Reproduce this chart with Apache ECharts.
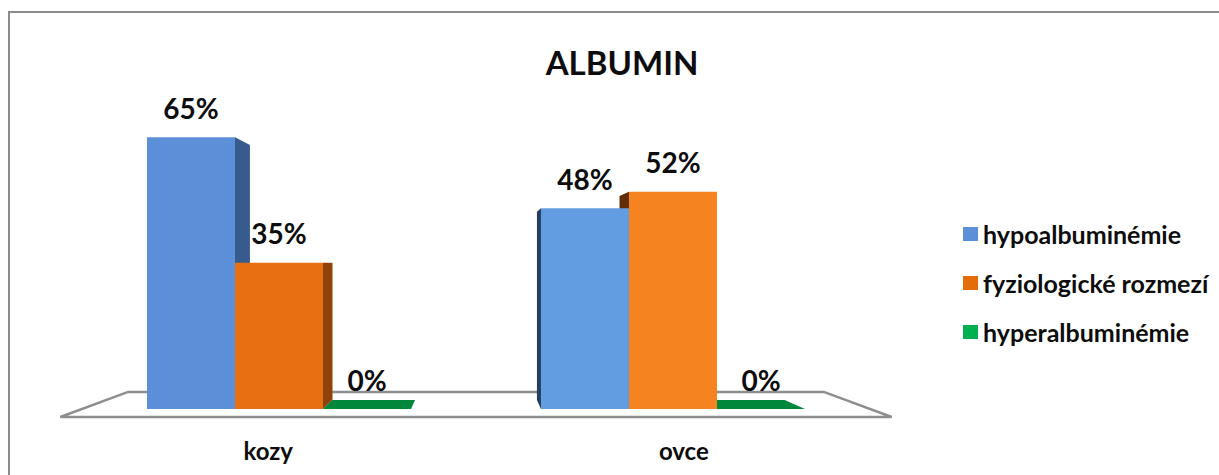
<!DOCTYPE html>
<html>
<head>
<meta charset="utf-8">
<title>ALBUMIN</title>
<script src="https://cdn.jsdelivr.net/npm/echarts@6/dist/echarts.min.js"></script>
<style>
  html, body { margin: 0; padding: 0; background: #ffffff; }
  #chart { width: 1219px; height: 475px; }
</style>
</head>
<body>
<div id="chart"></div>
<script>
// Values (percent of animals in each albumin class)
const categories = ['kozy', 'ovce'];
const seriesNames = ['hypoalbuminémie', 'fyziologické rozmezí', 'hyperalbuminémie'];
const hypoValues = [65, 48];
const physValues = [35, 52];
const hyperValues = [0, 0];

// Perspective settings for the pseudo-3D columns
const FONT = 'Lato, "Noto Sans", sans-serif';
const EYE_Y = 263;          // horizon line (px)
const BAR_BACK = 0.938;     // scale of a column's back face
const FLOOR_FRONT = 1.055;  // scale of the floor's front edge
const FLOOR_BACK = 0.883;   // scale of the floor's back edge
const BAR_RATIO = 0.2234;   // column width as a share of the category band

const palettes = [
  { legend: '#5B8FD6', left: { front: '#5B90D8', side: '#365B8C' }, right: { front: '#629DE2', side: '#233E62' } },
  { legend: '#E46C0A', left: { front: '#E87012', side: '#8F430A' }, right: { front: '#F58320', side: '#612D05' } },
  { legend: '#00B050', left: { front: '#00873C', side: '#006A2F' }, right: { front: '#00873C', side: '#006A2F' } }
];

function project(x, y, s, vx) {
  return [vx + (x - vx) * s, EYE_Y + (y - EYE_Y) * s];
}

function makeBarRenderer(si) {
  return function (params, api) {
    const cat = api.value(0);
    const val = api.value(1);
    const base = api.coord([cat, 0]);
    const top = api.coord([cat, val]);
    const band = api.size([1, 0])[0];
    const w = band * BAR_RATIO;
    const cs = params.coordSys;
    const vx = cs.x + cs.width / 2;
    const cx = base[0] + (si - 1) * w;
    const xl = cx - w / 2, xr = cx + w / 2;
    const yt = top[1], yb = base[1];
    const pal = cx < vx ? palettes[si].left : palettes[si].right;
    const order = 500 - Math.round(Math.abs(cx - vx));
    const children = [];

    // side face toward the vanishing point
    if (xr < vx) {
      children.push({
        type: 'polygon', z2: order,
        shape: { points: [[xr, yt], project(xr, yt, BAR_BACK, vx), project(xr, yb, BAR_BACK, vx), [xr, yb]] },
        style: { fill: pal.side }
      });
    } else if (xl > vx) {
      children.push({
        type: 'polygon', z2: order,
        shape: { points: [[xl, yt], project(xl, yt, BAR_BACK, vx), project(xl, yb, BAR_BACK, vx), [xl, yb]] },
        style: { fill: pal.side }
      });
    }
    // top face, visible when the column top lies below the horizon
    if (yt > EYE_Y + 0.5) {
      children.push({
        type: 'polygon', z2: order,
        shape: { points: [[xl, yt], [xr, yt], project(xr, yt, BAR_BACK, vx), project(xl, yt, BAR_BACK, vx)] },
        style: { fill: pal.front }
      });
    }
    // front face
    if (yb - yt > 0) {
      children.push({
        type: 'rect', z2: order + 1,
        shape: { x: xl, y: yt, width: w, height: yb - yt },
        style: { fill: pal.front }
      });
    }
    // value label
    children.push({
      type: 'text', z2: 2000,
      style: {
        x: cx, y: yt - 29.5, text: val + '%',
        align: 'center', verticalAlign: 'middle',
        font: 'bold 28px ' + FONT, fill: '#0d0d0d'
      }
    });
    return { type: 'group', children: children };
  };
}

function renderFloor(params, api) {
  const cat = api.value(0);
  const base = api.coord([cat, 0]);
  const cs = params.coordSys;
  const vx = cs.x + cs.width / 2;
  const y0 = base[1];
  const children = [];
  if (params.dataIndex === 0) {
    const x0 = cs.x, x1 = cs.x + cs.width;
    children.push({
      type: 'polygon', z2: -100,
      shape: { points: [project(x0, y0, FLOOR_FRONT, vx), project(x0, y0, FLOOR_BACK, vx),
                        project(x1, y0, FLOOR_BACK, vx), project(x1, y0, FLOOR_FRONT, vx)] },
      style: { fill: 'none', stroke: '#8e8e8e', lineWidth: 2.5, lineJoin: 'miter' }
    });
  }
  const front = project(base[0], y0, FLOOR_FRONT, vx);
  children.push({
    type: 'text', z2: 2000,
    style: {
      x: front[0], y: front[1] + 33, text: categories[cat],
      align: 'center', verticalAlign: 'middle',
      font: 'bold 24px ' + FONT, fill: '#0d0d0d'
    }
  });
  return { type: 'group', children: children };
}

const valueSets = [hypoValues, physValues, hyperValues];

const chart = echarts.init(document.getElementById('chart'), null, { renderer: 'svg' });
chart.setOption({
  animation: false,
  backgroundColor: '#ffffff',
  title: {
    text: 'ALBUMIN',
    left: 617, top: 40, textAlign: 'center',
    textStyle: { fontFamily: FONT, fontWeight: 'bold', fontSize: 33, color: '#0d0d0d' }
  },
  legend: {
    data: seriesNames,
    orient: 'vertical',
    left: 958, top: 216,
    itemWidth: 15, itemHeight: 14, itemGap: 23,
    icon: 'rect',
    selectedMode: false,
    textStyle: { fontFamily: FONT, fontWeight: 'bold', fontSize: 25, color: '#0d0d0d', lineHeight: 26 }
  },
  graphic: [{
    type: 'rect', silent: true, z: -10,
    shape: { x: 9, y: 12, width: 1400, height: 700 },
    style: { fill: 'none', stroke: '#8c8c8c', lineWidth: 2 }
  }],
  grid: { left: 82, width: 788, top: 74.6, height: 334.4 },
  xAxis: {
    type: 'category', data: categories,
    axisLine: { show: false }, axisTick: { show: false }, axisLabel: { show: false }, splitLine: { show: false }
  },
  yAxis: { type: 'value', min: 0, max: 80, show: false, splitLine: { show: false } },
  series: [
    {
      name: 'floor', type: 'custom', silent: true,
      data: categories.map((c, i) => [i, 0]),
      encode: { x: 0, y: 1 },
      renderItem: renderFloor
    }
  ].concat(seriesNames.map((name, si) => ({
    name: name, type: 'custom', silent: true,
    itemStyle: { color: palettes[si].legend },
    data: categories.map((c, i) => [i, valueSets[si][i]]),
    encode: { x: 0, y: 1 },
    renderItem: makeBarRenderer(si)
  })))
});
</script>
</body>
</html>
